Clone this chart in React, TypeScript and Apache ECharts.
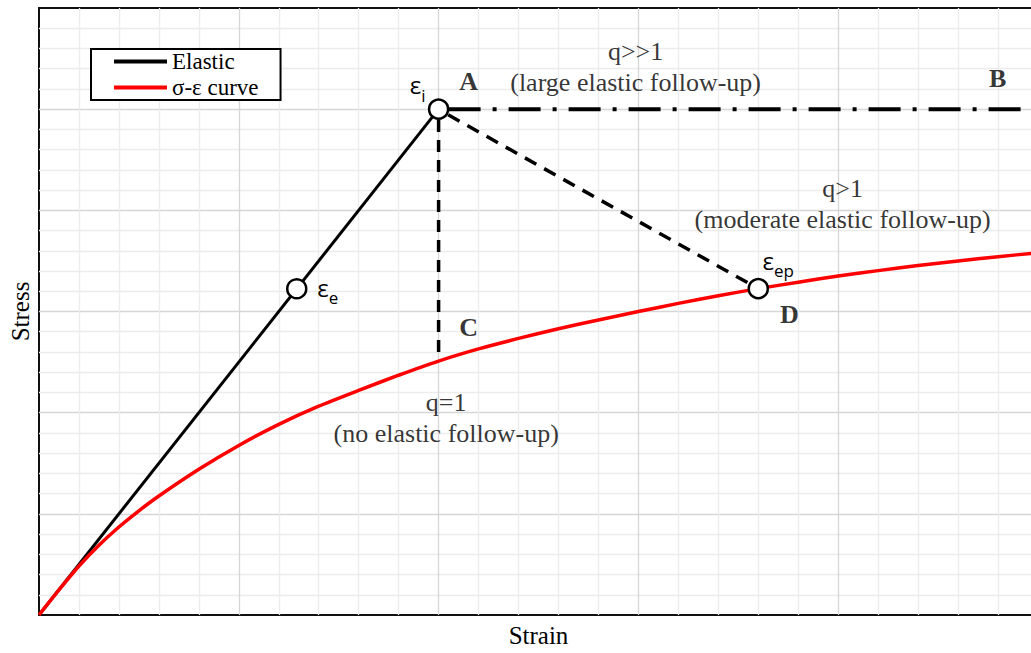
import React, { useEffect, useRef } from "react";
import * as echarts from "echarts";

// Stress–strain curve read along the strain axis
const strainValues = [0, 0.5, 1, 1.5, 2, 2.5, 3, 4, 5, 6, 7, 8, 9, 10, 11, 12, 13, 14, 15, 16, 17, 18, 19, 20, 21, 22, 23, 24, 25];
const stressValues = [
  0, 1.24, 2.42, 3.45, 4.35, 5.15, 5.88, 7.2, 8.38, 9.42, 10.32, 11.1, 11.85, 12.55, 13.15, 13.67, 14.15,
  14.58, 15.0, 15.4, 15.78, 16.13, 16.45, 16.75, 17.02, 17.27, 17.5, 17.71, 17.9,
];

// Elastic loading line from the origin to point A
const elasticLine = [
  [0, 0],
  [10, 25],
];

// Relaxation paths leaving point A
const pathAB = [
  [10.25, 25],
  [25, 25],
];
const pathAC = [
  [10, 24.46],
  [10, 12.55],
];
const pathAD = [
  [10.24, 24.72],
  [18, 16.13],
];

// Marked strains: εi, εe, εep
const strainMarkNames = ["i", "e", "ep"];
const strainMarkValues = [
  [10, 25],
  [6.45, 16.125],
  [18, 16.13],
];
const strainMarkOffsets = [
  [-21, -21],
  [31, 2],
  [20, -25],
];

// Follow-up notes
const noteTexts = [
  "q>>1\n(large elastic follow-up)",
  "q>1\n(moderate elastic follow-up)",
  "q=1\n(no elastic follow-up)",
];
const noteAnchors = [
  [14.93, 27.1],
  [20.11, 20.29],
  [10.19, 9.74],
];

// Point letters
const pointLetters = ["A", "B", "C", "D"];
const letterAnchors = [
  [10.75, 26.39],
  [23.99, 26.51],
  [10.75, 14.21],
  [18.78, 14.85],
];

const SERIF = "Liberation Serif";
const SANS = "Open Sans";

export default function App() {
  const ref = useRef<HTMLDivElement>(null);

  useEffect(() => {
    if (!ref.current) return;
    const chart = echarts.init(ref.current, undefined, { renderer: "svg" });

    const curve = strainValues.map((x, i) => [x, stressValues[i]]);

    const gridLines = {
      show: true,
      showMinLine: false,
      showMaxLine: false,
      lineStyle: { color: "#d6d6d6", width: 1.3 },
    };
    const minorLines = { show: true, lineStyle: { color: "#ececec", width: 1.3 } };

    chart.setOption({
      animation: false,
      backgroundColor: "#fff",
      textStyle: { fontFamily: SERIF, color: "#000" },
      grid: {
        left: 38,
        top: 8,
        right: 7,
        bottom: 35,
        show: true,
        borderColor: "#111",
        borderWidth: 2,
        backgroundColor: "transparent",
      },
      legend: {
        left: 91,
        top: 49,
        orient: "vertical",
        icon: "rect",
        itemWidth: 53,
        itemHeight: 4,
        itemGap: 3,
        padding: [1, 22, 1, 23],
        borderColor: "#000",
        borderWidth: 2,
        backgroundColor: "#fff",
        data: ["Elastic", "σ-ε curve"],
        textStyle: { fontFamily: SERIF, fontSize: 23, lineHeight: 23, color: "#000" },
      },
      xAxis: {
        type: "value",
        min: 0,
        max: 25,
        interval: 5,
        name: "Strain",
        nameLocation: "middle",
        nameGap: 8,
        nameTextStyle: { fontFamily: SERIF, fontSize: 25, color: "#000", verticalAlign: "top" },
        axisLine: { show: false },
        axisTick: { show: false },
        axisLabel: { show: false },
        splitLine: gridLines,
        minorTick: { show: false, splitNumber: 5 },
        minorSplitLine: minorLines,
      },
      yAxis: {
        type: "value",
        min: 0,
        max: 30,
        interval: 5,
        name: "Stress",
        nameLocation: "middle",
        nameGap: 6,
        nameTextStyle: { fontFamily: SERIF, fontSize: 25, color: "#000" },
        axisLine: { show: false },
        axisTick: { show: false },
        axisLabel: { show: false },
        splitLine: gridLines,
        minorTick: { show: false, splitNumber: 5 },
        minorSplitLine: minorLines,
      },
      series: [
        {
          name: "Elastic",
          type: "line",
          data: elasticLine,
          symbol: "none",
          color: "#000",
          lineStyle: { color: "#000", width: 3 },
          z: 3,
        },
        {
          name: "σ-ε curve",
          type: "line",
          data: curve,
          smooth: 0.25,
          symbol: "none",
          color: "#ff0000",
          lineStyle: { color: "#ff0000", width: 3.5 },
          z: 4,
        },
        {
          name: "A-B",
          type: "line",
          data: pathAB,
          symbol: "none",
          lineStyle: { color: "#000", width: 4, type: [32, 12, 4, 12] },
          z: 3,
        },
        {
          name: "A-C",
          type: "line",
          data: pathAC,
          symbol: "none",
          lineStyle: { color: "#000", width: 3.5, type: [12, 8] },
          z: 3,
        },
        {
          name: "A-D",
          type: "line",
          data: pathAD,
          symbol: "none",
          lineStyle: { color: "#000", width: 3.5, type: [13, 9] },
          z: 3,
        },
        {
          name: "strain marks",
          type: "scatter",
          symbol: "circle",
          symbolSize: 19,
          itemStyle: { color: "#fff", borderColor: "#000", borderWidth: 2.5, opacity: 1 },
          z: 6,
          data: strainMarkValues.map((v, i) => ({
            value: v,
            label: {
              show: true,
              position: "inside",
              offset: strainMarkOffsets[i],
              formatter: "{e|ε}{s|" + strainMarkNames[i] + "}",
              rich: {
                e: { fontFamily: SANS, fontSize: 24, color: "#000", padding: [0, 0, 7, 0], verticalAlign: "bottom" },
                s: { fontFamily: SANS, fontSize: 17, color: "#000", verticalAlign: "bottom" },
              },
            },
          })),
        },
        {
          name: "notes",
          type: "scatter",
          symbolSize: 1,
          itemStyle: { color: "transparent" },
          z: 7,
          data: noteAnchors.map((v, i) => ({
            value: v,
            label: {
              show: true,
              position: "inside",
              formatter: noteTexts[i],
              fontFamily: SERIF,
              fontSize: 26,
              lineHeight: 31,
              color: "#000",
              align: "center",
            },
          })),
        },
        {
          name: "letters",
          type: "scatter",
          symbolSize: 1,
          itemStyle: { color: "transparent" },
          z: 7,
          data: letterAnchors.map((v, i) => ({
            value: v,
            label: {
              show: true,
              position: "inside",
              formatter: pointLetters[i],
              fontFamily: SERIF,
              fontSize: 26,
              fontWeight: "bold",
              color: "#000",
            },
          })),
        },
      ],
    });

    return () => chart.dispose();
  }, []);

  return (
    <div
      style={{
        position: "fixed",
        left: 0,
        top: 0,
        width: 1031,
        height: 653,
        overflow: "hidden",
        background: "#fff",
      }}
    >
      <div ref={ref} style={{ width: 1045, height: 653 }} />
    </div>
  );
}
